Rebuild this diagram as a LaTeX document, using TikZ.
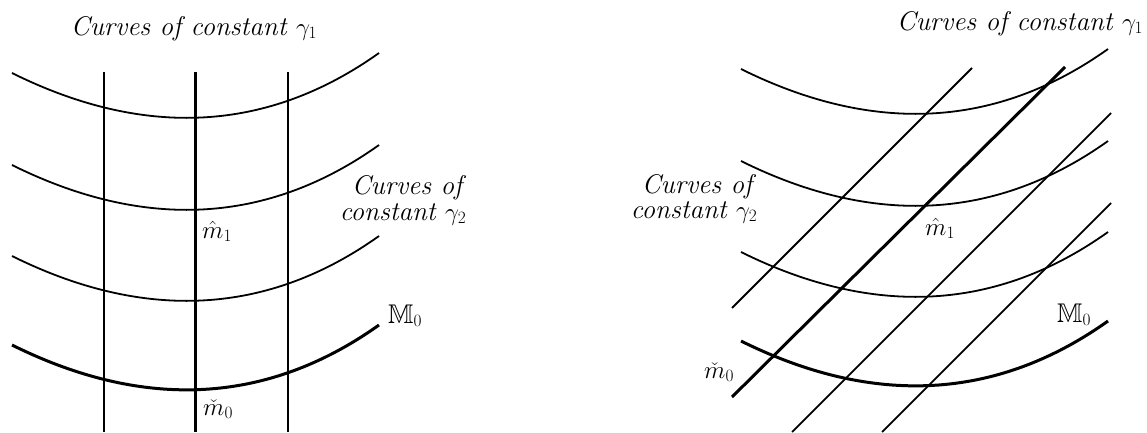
\documentclass[tikz,border=0pt]{standalone}
\usepackage{amssymb}
\begin{document}
\begin{tikzpicture}[x=1pt,y=-1pt,
  thinline/.style={line width=1.8pt},
  thickline/.style={line width=3pt},
  lbl/.style={inner sep=0pt, font=\fontsize{27}{30}\selectfont},
  ttl/.style={lbl, font=\fontsize{27}{30}\selectfont\itshape}]
\useasboundingbox (0,0) rectangle (1147,432);
% ---------- left panel ----------
\foreach \dy/\st in {0/thinline,92/thinline,183/thinline,272/thickline}
  \draw[\st] (12,73+\dy) .. controls (145,139+\dy) and (268,132+\dy) .. (379,53+\dy);
\draw[thinline]  (104,72) -- (104,432);
\draw[thickline] (195,72) -- (195,432);
\draw[thinline]  (288,72) -- (288,432);
\node[ttl, anchor=base] (t1L) at (194,35) {Curves of constant $\gamma_1$};
\node[ttl, anchor=base] (t2La) at (407,194) {Curves of};
\node[ttl, anchor=base] (t2Lb) at (403,220) {constant $\gamma_2$};
\node[lbl, anchor=base west] (m1L) at (202,238) {$\hat{m}_1$};
\node[lbl, anchor=base west] (m0L) at (203,415) {$\check{m}_0$};
\node[lbl, anchor=base west] (ML) at (388,323) {$\mathbb{M}_0$};
% ---------- right panel ----------
\begin{scope}[shift={(729,-4)}]
\foreach \dy/\st in {0/thinline,92/thinline,183/thinline,272/thickline}
  \draw[\st] (12,73+\dy) .. controls (145,139+\dy) and (268,132+\dy) .. (379,53+\dy);
\end{scope}
\draw[thinline]  (972,68) -- (732,308);
\draw[thickline] (1065,67) -- (732,397);
\draw[thinline]  (1111,113) -- (792,432);
\draw[thinline]  (1111,203) -- (882,432);
\node[ttl, anchor=base] (t1R) at (1020,30) {Curves of constant $\gamma_1$};
\node[ttl, anchor=base] (t2Ra) at (697,193) {Curves of};
\node[ttl, anchor=base] (t2Rb) at (694,218) {constant $\gamma_2$};
\node[lbl, anchor=base west] (m1R) at (925,235) {$\hat{m}_1$};
\node[lbl, anchor=base west] (m0R) at (704,378) {$\check{m}_0$};
\node[lbl, anchor=base west] (MR) at (1057,322) {$\mathbb{M}_0$};
\end{tikzpicture}
\end{document}
